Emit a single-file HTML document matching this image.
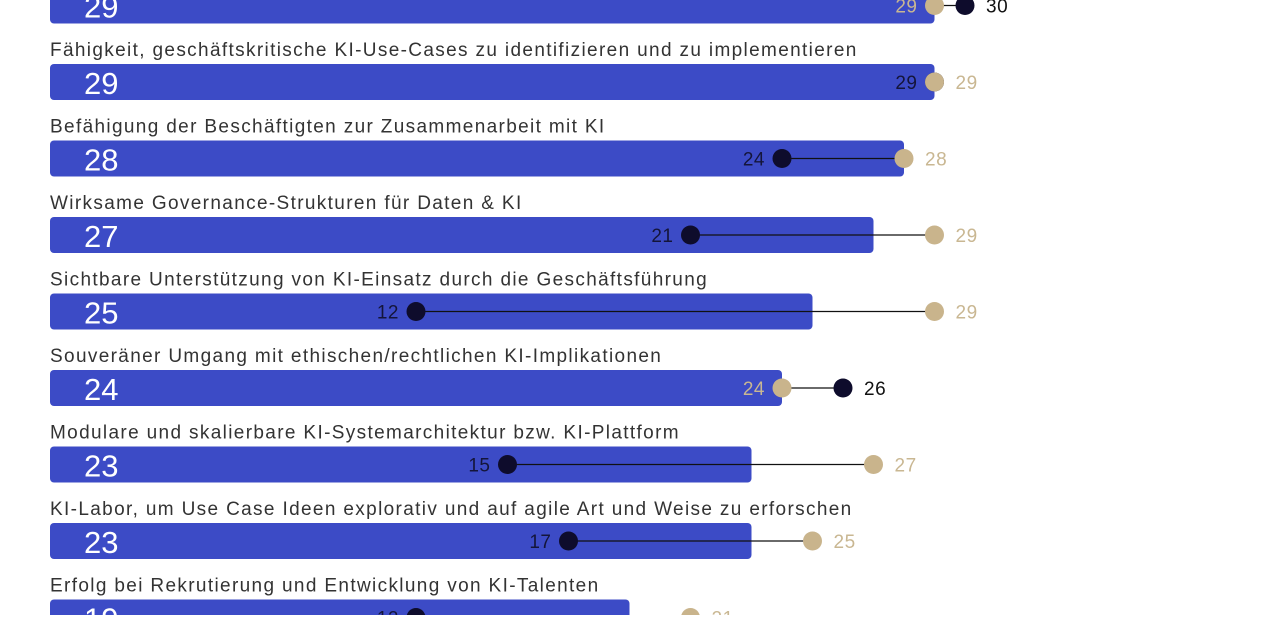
<!DOCTYPE html>
<html><head><meta charset="utf-8"><style>
body{margin:0;background:#fff;width:1280px;height:615px;overflow:hidden}
text{font-family:"Liberation Sans","DejaVu Sans",sans-serif}
</style></head><body>
<svg width="1280" height="615" xmlns="http://www.w3.org/2000/svg">
<g id="c"></g>
</svg>
<script>
const rows=[
["",29,30,29],
["Fähigkeit, geschäftskritische KI-Use-Cases zu identifizieren und zu implementieren",29,29,29],
["Befähigung der Beschäftigten zur Zusammenarbeit mit KI",28,24,28],
["Wirksame Governance-Strukturen für Daten & KI",27,21,29],
["Sichtbare Unterstützung von KI-Einsatz durch die Geschäftsführung",25,12,29],
["Souveräner Umgang mit ethischen/rechtlichen KI-Implikationen",24,26,24],
["Modulare und skalierbare KI-Systemarchitektur bzw. KI-Plattform",23,15,27],
["KI-Labor, um Use Case Ideen explorativ und auf agile Art und Weise zu erforschen",23,17,25],
["Erfolg bei Rekrutierung und Entwicklung von KI-Talenten",19,12,21]];
const X=v=>50+v*30.5;
let s="";
rows.forEach((r,i)=>{
 const cy=5.5+i*76.5, top=cy-18;
 const [lab,bar,d,t]=r;
 if(lab) s+=`<text x="50" y="${cy-26}" font-size="19" fill="#333" letter-spacing="1.35">${lab}</text>`;
 s+=`<rect x="50" y="${top}" width="${X(bar)-50}" height="36" rx="4" fill="#3c4bc6"/>`;
 s+=`<text x="84" y="${cy+12}" font-size="31" fill="#fff">${bar}</text>`;
 const xd=X(d), xt=X(t);
 s+=`<line x1="${Math.min(xd,xt)}" x2="${Math.max(xd,xt)}" y1="${cy}" y2="${cy}" stroke="#111" stroke-width="1.2"/>`;
 const dl=xd<=xt;
 const L=dl?{x:xd,v:d,c:"#14153a"}:{x:xt,v:t,c:"#c9b792"};
 const R=dl?{x:xt,v:t,c:"#c9b792"}:{x:xd,v:d,c:"#111"};
 s+=`<text x="${L.x-17}" y="${cy+7}" font-size="19" text-anchor="end" fill="${L.c}" letter-spacing="0.5">${L.v}</text>`;
 s+=`<text x="${R.x+21}" y="${cy+7}" font-size="19" fill="${R.c}" letter-spacing="0.5">${R.v}</text>`;
 if(dl){s+=`<circle cx="${xd}" cy="${cy}" r="9.5" fill="#0e0c2c"/><circle cx="${xt}" cy="${cy}" r="9.5" fill="#c9b48c"/>`;}
 else{s+=`<circle cx="${xd}" cy="${cy}" r="9.5" fill="#0e0c2c"/><circle cx="${xt}" cy="${cy}" r="9.5" fill="#c9b48c"/>`;}
});
document.getElementById("c").innerHTML=s;
</script>
</body></html>
